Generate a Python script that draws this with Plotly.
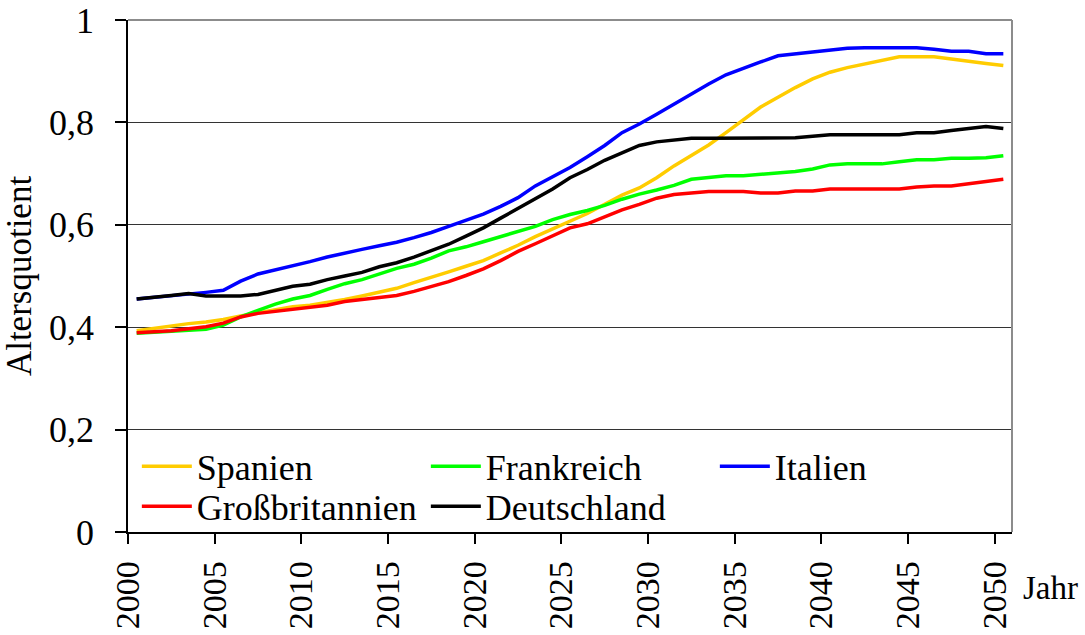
import plotly.graph_objects as go

years = list(range(2000, 2051))

spanien = [0.393, 0.398, 0.403, 0.407, 0.410, 0.415, 0.422, 0.428, 0.434, 0.440,
           0.443, 0.448, 0.454, 0.461, 0.469, 0.476, 0.487, 0.497, 0.508, 0.519,
           0.530, 0.545, 0.560, 0.577, 0.592, 0.607, 0.622, 0.640, 0.658, 0.672,
           0.692, 0.715, 0.735, 0.756, 0.780, 0.804, 0.830, 0.849, 0.868, 0.885,
           0.898, 0.907, 0.914, 0.922, 0.928, 0.928, 0.928, 0.924, 0.919, 0.915,
           0.911]
frankreich = [0.388, 0.390, 0.392, 0.394, 0.396, 0.404, 0.420, 0.433, 0.445, 0.455,
              0.462, 0.474, 0.485, 0.493, 0.504, 0.515, 0.523, 0.535, 0.549, 0.557,
              0.567, 0.577, 0.586, 0.597, 0.610, 0.620, 0.628, 0.638, 0.650, 0.660,
              0.668, 0.677, 0.689, 0.693, 0.696, 0.696, 0.699, 0.701, 0.704, 0.709,
              0.717, 0.719, 0.719, 0.719, 0.723, 0.727, 0.727, 0.730, 0.730, 0.731,
              0.735]
italien = [0.455, 0.458, 0.461, 0.465, 0.468, 0.472, 0.490, 0.504, 0.512, 0.519,
           0.528, 0.537, 0.545, 0.552, 0.559, 0.566, 0.575, 0.585, 0.597, 0.609,
           0.621, 0.636, 0.653, 0.676, 0.694, 0.712, 0.733, 0.755, 0.780, 0.797,
           0.816, 0.836, 0.855, 0.875, 0.893, 0.906, 0.918, 0.930, 0.934, 0.938,
           0.942, 0.945, 0.946, 0.946, 0.946, 0.946, 0.943, 0.939, 0.939, 0.934,
           0.934]
grossbritannien = [0.389, 0.391, 0.393, 0.397, 0.401, 0.408, 0.420, 0.427, 0.431, 0.435,
                   0.438, 0.443, 0.450, 0.454, 0.458, 0.462, 0.470, 0.479, 0.489, 0.501,
                   0.514, 0.530, 0.548, 0.563, 0.578, 0.594, 0.602, 0.615, 0.629, 0.640,
                   0.652, 0.659, 0.662, 0.665, 0.665, 0.665, 0.662, 0.662, 0.666, 0.666,
                   0.670, 0.670, 0.670, 0.670, 0.670, 0.674, 0.676, 0.676, 0.680, 0.684,
                   0.689]
deutschland = [0.455, 0.458, 0.462, 0.466, 0.461, 0.461, 0.461, 0.464, 0.472, 0.480,
               0.484, 0.493, 0.500, 0.507, 0.518, 0.526, 0.537, 0.550, 0.562, 0.578,
               0.594, 0.613, 0.632, 0.652, 0.670, 0.692, 0.708, 0.726, 0.741, 0.755,
               0.762, 0.766, 0.769, 0.769, 0.769, 0.769, 0.769, 0.770, 0.770, 0.773,
               0.776, 0.776, 0.776, 0.776, 0.776, 0.780, 0.780, 0.784, 0.788, 0.792,
               0.788]

series_names = ["Spanien", "Frankreich", "Italien", "Großbritannien", "Deutschland"]
series_values = [spanien, frankreich, italien, grossbritannien, deutschland]
series_colors = ["#FFCC00", "#00FF00", "#0000FF", "#FF0000", "#000000"]
series_legend = ["legend", "legend", "legend", "legend2", "legend2"]

tick_years = list(range(2000, 2051, 5))
y_ticks = [0, 0.2, 0.4, 0.6, 0.8, 1.0]

FONT = "Liberation Serif, Times New Roman, serif"

fig = go.Figure()
for name, vals, col, lg in zip(series_names, series_values, series_colors, series_legend):
    fig.add_trace(go.Scatter(x=years, y=vals, mode="lines", name=name, legend=lg,
                             line=dict(color=col, width=3.5)))

# gray plot border (top and right)
fig.add_shape(type="line", xref="paper", yref="paper", x0=0, x1=1, y0=1, y1=1,
              line=dict(color="#8c8c8c", width=2), layer="above")
fig.add_shape(type="line", xref="paper", yref="paper", x0=1, x1=1, y0=0, y1=1,
              line=dict(color="#8c8c8c", width=2), layer="above")

legend_common = dict(orientation="h", xanchor="left", yanchor="middle",
                     bgcolor="rgba(0,0,0,0)", entrywidth=224, entrywidthmode="pixels",
                     font=dict(family=FONT, size=36), itemwidth=50)

fig.update_layout(
    width=1085, height=635,
    margin=dict(l=128, r=73, t=20, b=103),
    paper_bgcolor="white", plot_bgcolor="white",
    separators=", ",
    font=dict(family=FONT, size=34, color="black"),
    showlegend=True,
    legend=dict(x=0.010, y=0.128, **legend_common),
    legend2=dict(x=0.010, y=0.050, **legend_common),
    xaxis=dict(range=[1999.5, 2050.5], tickmode="array",
               tickvals=[y - 0.5 for y in tick_years],
               ticktext=[str(y) for y in tick_years],
               tickangle=-90, ticks="outside", ticklen=10, tickcolor="black",
               tickwidth=1.5, ticklabelstandoff=4,
               showline=True, linecolor="black", linewidth=1.5,
               showgrid=False, zeroline=False, automargin=False,
               tickfont=dict(family=FONT, size=34)),
    yaxis=dict(range=[0, 1], tickmode="array", tickvals=y_ticks,
               ticks="outside", ticklen=11, tickcolor="black", tickwidth=1.5,
               ticklabelstandoff=14,
               showline=True, linecolor="black", linewidth=1.5,
               showgrid=True, gridcolor="#333333", gridwidth=1.2,
               zeroline=False, tickformat="~g", automargin=False,
               tickfont=dict(family=FONT, size=36),
               title=dict(text="Altersquotient", font=dict(family=FONT, size=35),
                          standoff=8)),
)

fig.add_annotation(text="Jahr", xref="paper", yref="paper", x=1.010, y=-0.11,
                   xanchor="left", yanchor="middle", showarrow=False,
                   font=dict(family=FONT, size=33))

fig.write_html("out.html", config={"displayModeBar": False},
               post_script="document.body.style.margin='0px';")
